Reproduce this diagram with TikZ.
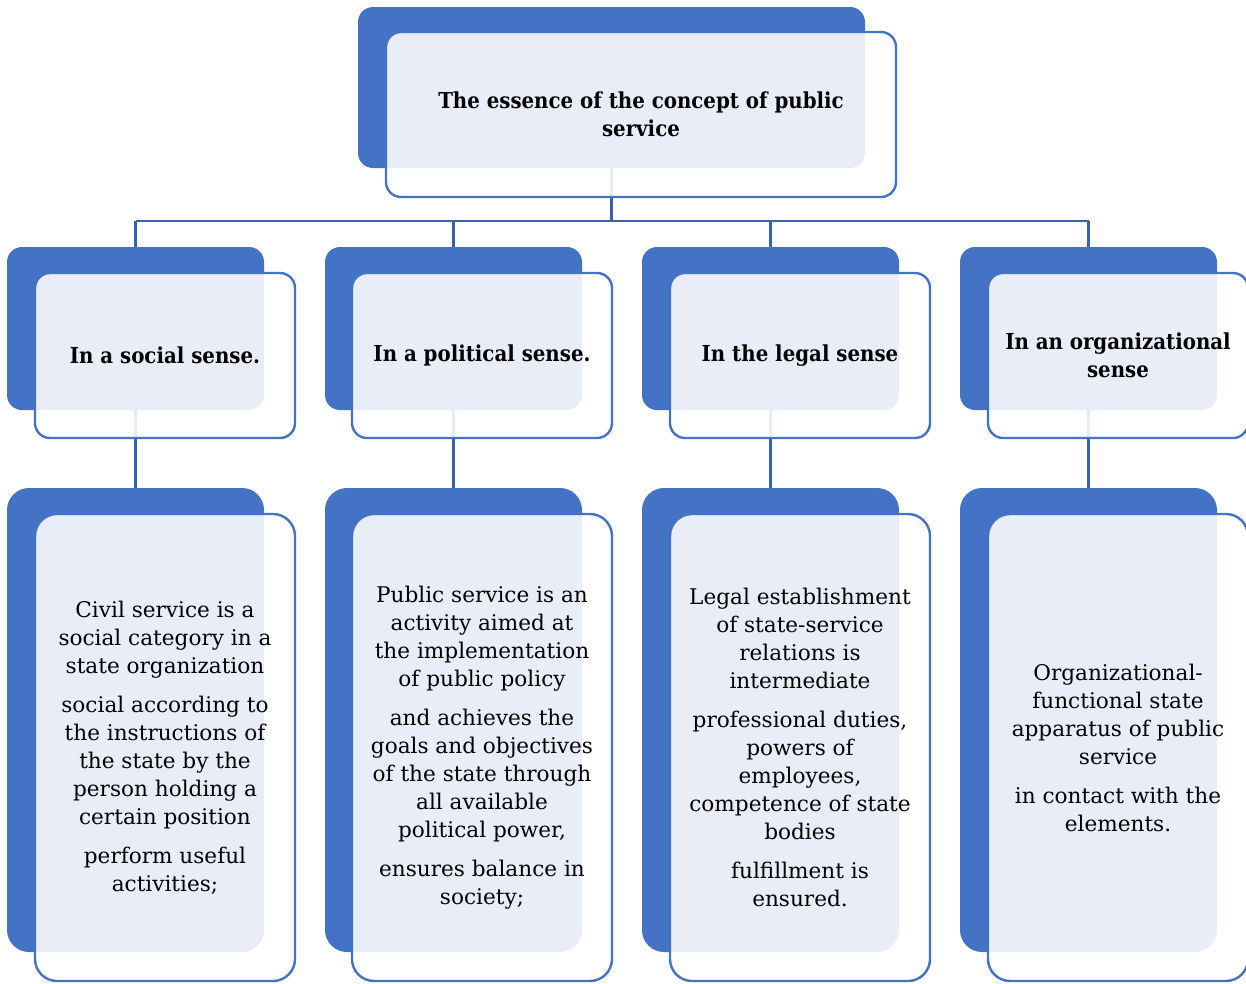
\documentclass[tikz,border=0pt]{standalone}
\usepackage{fontspec}
\setmainfont{DejaVu Serif}
\newfontfamily\headfont{DejaVu Serif Condensed}
\definecolor{bl}{HTML}{4472C4}
\definecolor{ln}{HTML}{3A62A8}
\tikzset{
 back/.style={fill=bl, rounded corners=#1, inner sep=0pt, outer sep=0pt},
 back/.default=15pt,
 front/.style={draw=bl, line width=2.4pt, fill=white, fill opacity=0.88, rounded corners=#1, inner sep=0pt, outer sep=0pt},
 front/.default=15pt,
 conn/.style={draw=ln, line width=2.4pt},
 head/.style={font=\headfont\bfseries\fontsize{22}{28}\selectfont, align=center, text=black, inner sep=0pt},
 body/.style={font=\fontsize{21.6}{28}\selectfont, align=center, text=black, inner sep=0pt},
}
\begin{document}
\begin{tikzpicture}[x=1pt,y=-1pt]
\useasboundingbox (0,0) rectangle (1246,983);
% back boxes
\node[back, minimum width=507pt, minimum height=161pt] (tb) at (611.5,87.5) {};
\foreach \i/\x in {1/7,2/325,3/642,4/960}{
  \node[back, minimum width=257pt, minimum height=163pt] (m\i) at (\x+128.5,328.5) {};
  \node[back=22pt, minimum width=257pt, minimum height=464pt] (b\i) at (\x+128.5,720) {};
}
% connectors
\coordinate (bus) at (0,221);
\draw[conn] (tb.south) -- (tb.south |- bus);
\draw[conn] (m1.north |- bus) -- (m4.north |- bus);
\foreach \i in {1,2,3,4}{
  \draw[conn] (m\i.north |- bus) -- (m\i.north);
  \draw[conn] (m\i.south) -- (b\i.north);
}
% front boxes
\node[front, minimum width=510pt, minimum height=165pt] (tf) at (641,114.5) {};
\foreach \i/\x in {1/35,2/352,3/670,4/988}{
  \node[front, minimum width=260pt, minimum height=165pt] (mf\i) at (\x+130,355.5) {};
  \node[front=22pt, minimum width=260pt, minimum height=467pt] (bf\i) at (\x+130,747.5) {};
}
% texts
\node[head] (tt) at (tf.center) {The essence of the concept of public\\service};
\node[head] (mt1) at (mf1.center) {In a social sense.};
\node[head] (mt2) at (mf2.center) {In a political sense.};
\node[head] (mt3) at (mf3.center) {In the legal sense};
\node[head] (mt4) at (mf4.center) {In an organizational\\sense};
\node[body] (bt1) at (bf1.center) {Civil service is a\\social category in a\\state organization\\[11pt]social according to\\the instructions of\\the state by the\\person holding a\\certain position\\[11pt]perform useful\\activities;};
\node[body] (bt2) at (bf2.center) {Public service is an\\activity aimed at\\the implementation\\of public policy\\[11pt]and achieves the\\goals and objectives\\of the state through\\all available\\political power,\\[11pt]ensures balance in\\society;};
\node[body] (bt3) at (bf3.center) {Legal establishment\\of state-service\\relations is\\intermediate\\[11pt]professional duties,\\powers of\\employees,\\competence of state\\bodies\\[11pt]fulfillment is\\ensured.};
\node[body] (bt4) at (bf4.center) {Organizational-\\functional state\\apparatus of public\\service\\[11pt]in contact with the\\elements.};
\end{tikzpicture}
\end{document}
